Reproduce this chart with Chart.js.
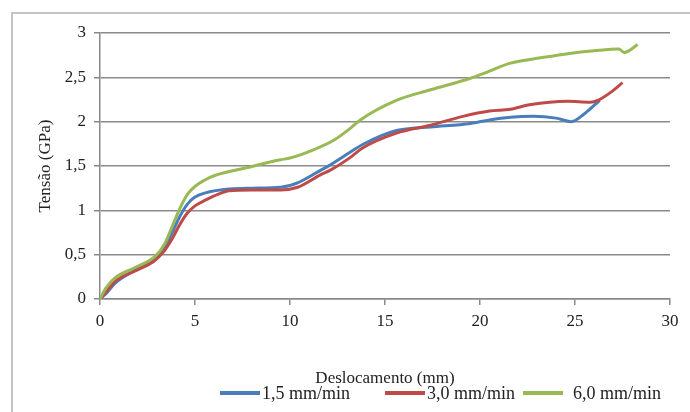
<!DOCTYPE html>
<html>
<head>
<meta charset="utf-8">
<script src="https://cdn.jsdelivr.net/npm/chart.js@4.4.1/dist/chart.umd.min.js"></script>
<style>
  html, body { margin: 0; padding: 0; background: #fff; }
  #wrap { position: relative; width: 690px; height: 412px; overflow: hidden; font-family: 'Liberation Serif', 'DejaVu Serif', serif; }
  #frame { position: absolute; left: 11px; top: 12px; width: 700px; height: 420px; border: 2px solid #c4c4c4; }
  #chart { position: absolute; left: 0; top: 0; }
  #legend { position: absolute; left: 220px; top: 383px; display: flex; align-items: center; font-size: 18px; line-height: 20px; color: #222; white-space: nowrap; }
  .item { display: flex; align-items: center; }
  .swatch { width: 40px; height: 4px; }
</style>
</head>
<body>
<div id="wrap">
  <div id="frame"></div>
  <canvas id="chart" width="690" height="412"></canvas>
  <div id="legend"></div>
</div>
<script>
// Series (displacement in mm, stress in GPa)
const blueX = [0, 0.4, 0.8, 1.8, 2.9, 3.4, 3.8, 4.2, 4.6, 5.0, 5.6, 6.8, 8.0, 9.5, 10.4, 11.6, 12.1, 13.2, 13.8, 15.6, 17.4, 19.5, 20.5, 21.6, 22.8, 24.0, 24.8, 25.5, 26.3];
const blueY = [0, 0.08, 0.18, 0.32, 0.45, 0.58, 0.75, 0.93, 1.07, 1.15, 1.20, 1.24, 1.25, 1.26, 1.31, 1.45, 1.51, 1.66, 1.74, 1.90, 1.94, 1.98, 2.02, 2.05, 2.06, 2.04, 2.00, 2.09, 2.24];

const redX = [0, 0.4, 0.8, 2.0, 2.8, 3.3, 3.8, 4.2, 4.6, 5.0, 5.6, 6.2, 6.8, 8.0, 9.5, 10.4, 11.6, 12.1, 13.2, 13.8, 15.6, 17.4, 19.1, 20.5, 21.6, 22.6, 24.6, 25.8, 26.2, 27.0, 27.5];
const redY = [0, 0.10, 0.20, 0.33, 0.42, 0.52, 0.68, 0.84, 0.97, 1.05, 1.12, 1.18, 1.22, 1.23, 1.23, 1.26, 1.40, 1.45, 1.60, 1.70, 1.87, 1.96, 2.06, 2.12, 2.14, 2.19, 2.23, 2.22, 2.24, 2.35, 2.44];

const greenX = [0, 0.3, 0.8, 1.8, 2.9, 3.4, 3.8, 4.2, 4.6, 5.0, 5.5, 6.0, 7.7, 9.5, 10.0, 11.2, 12.3, 13.2, 13.7, 15.6, 17.4, 19.5, 20.5, 21.6, 23.2, 24.7, 26.0, 27.3, 27.6, 28.3];
const greenY = [0, 0.12, 0.24, 0.35, 0.48, 0.62, 0.82, 1.02, 1.18, 1.27, 1.34, 1.39, 1.48, 1.57, 1.59, 1.68, 1.79, 1.93, 2.02, 2.24, 2.36, 2.49, 2.57, 2.66, 2.72, 2.77, 2.80, 2.82, 2.78, 2.87];

const seriesLabels = ['1,5 mm/min', '3,0 mm/min', '6,0 mm/min'];
const seriesColors = ['#4a7ebb', '#be4b48', '#98b954'];
const xRange = [0, 30, 5];
const yRange = [0, 3, 0.5];
const xTitle = 'Deslocamento (mm)';
const yTitle = 'Tensão (GPa)';

function pts(xs, ys) {
    return xs.map((x, i) => ({ x: x, y: ys[i] }));
}

// decimal comma, no trailing zeros (3, 2,5, 2 ...)
function fmt(v) {
    return String(v).replace('.', ',');
}

Chart.defaults.font.family = "'Liberation Serif', 'Times New Roman', serif";
Chart.defaults.font.size = 17;
Chart.defaults.color = '#222';

const seriesData = [pts(blueX, blueY), pts(redX, redY), pts(greenX, greenY)];
const datasets = seriesData.map((data, i) => ({
    label: seriesLabels[i],
    data: data,
    borderColor: seriesColors[i],
    backgroundColor: seriesColors[i],
    borderWidth: 3,
    pointRadius: 0,
    cubicInterpolationMode: 'monotone',
    order: 2 - i,
}));

const gridColor = '#8a8a8a';

const chart = new Chart(document.getElementById('chart'), {
    type: 'line',
    data: { datasets },
    options: {
        responsive: false,
        animation: false,
        layout: { padding: { left: 0, right: 20, top: 33, bottom: 0 } },
        plugins: { legend: { display: false }, tooltip: { enabled: false } },
        scales: {
            x: {
                type: 'linear',
                min: xRange[0], max: xRange[1],
                ticks: { stepSize: xRange[2], padding: 6, maxRotation: 0, callback: fmt },
                grid: { drawOnChartArea: false, drawTicks: true, tickLength: 6, color: gridColor, lineWidth: 1.5 },
                border: { color: gridColor, width: 1.5 },
                title: { display: true, text: xTitle, padding: { top: 0, bottom: 23 } },
                afterFit(scale) { scale.height = 113; },
            },
            y: {
                min: yRange[0], max: yRange[1],
                ticks: { stepSize: yRange[2], padding: 8, callback: fmt },
                grid: { color: gridColor, lineWidth: 1.5, tickLength: 6 },
                border: { color: gridColor, width: 1.5 },
                title: { display: true, text: yTitle, padding: { top: 35, bottom: 0 } },
                afterFit(scale) { scale.width = 100; },
            },
        },
    },
});

// HTML legend built from the datasets
const legendGaps = [0, 35, 8];
const textGaps = [2, 2, 10];
const legend = document.getElementById('legend');
chart.data.datasets.forEach((ds, i) => {
    const item = document.createElement('div');
    item.className = 'item';
    item.style.marginLeft = legendGaps[i] + 'px';
    const sw = document.createElement('span');
    sw.className = 'swatch';
    sw.style.background = ds.borderColor;
    sw.style.marginRight = textGaps[i] + 'px';
    const txt = document.createElement('span');
    txt.textContent = ds.label;
    item.appendChild(sw);
    item.appendChild(txt);
    legend.appendChild(item);
});
</script>
</body>
</html>
